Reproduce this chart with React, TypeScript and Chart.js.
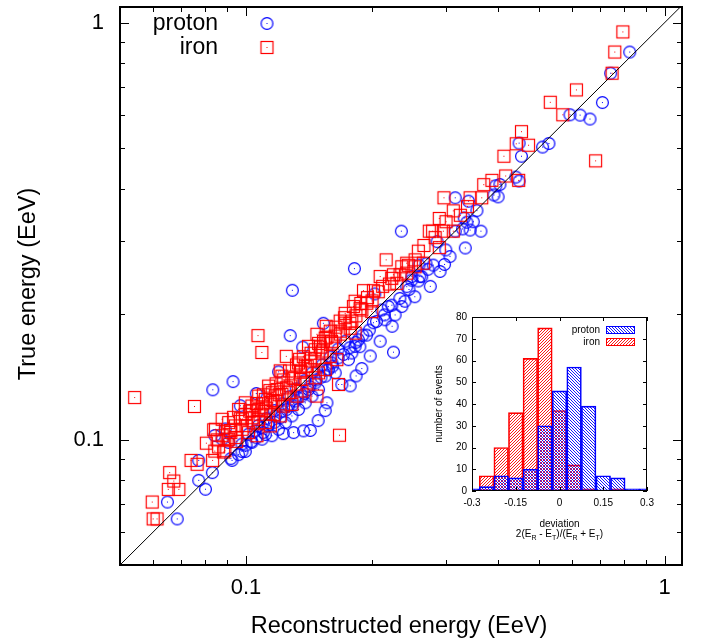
import React, { useEffect, useRef } from 'react';
import { Chart, registerables } from 'chart.js';
Chart.register(...registerables);

// ---------- data ----------
const protonX = [0.825,0.743,0.710,0.594,0.628,0.663,0.529,0.511,0.449,0.455,0.441,0.449,0.404,0.395,0.235,0.1815,0.334,0.364,0.298,0.316,0.340,0.356,0.332,0.349,0.337,0.316,0.329,0.343,0.391,0.400,0.269,0.259,0.272,0.249,0.260,0.129,0.153,0.1275,0.1366,0.203,0.2015,0.194,0.187,0.225,0.189,0.0931,0.0833,0.1196,0.0969,0.1372,0.1299,0.0892,0.156,0.0842,0.0926,0.0996,0.0978,0.0831,0.0771,0.0771,0.080,0.0649,0.0685,0.1058,0.253,0.2355,0.227,0.2149,0.1757,0.1694,0.1633,0.1546,0.149,0.1437,0.1385,0.1335,0.1287,0.1241,0.1196,0.1153,0.1092,0.1033,0.0978,0.0909,0.0877,0.2628,0.2488,0.242,0.211,0.2187,0.1856,0.1822,0.1789,0.1604,0.1574,0.1463,0.141,0.136,0.1311,0.1264,0.1218,0.1175,0.1132,0.1092,0.1052,0.1014,0.1725,0.166,0.1589,0.152,0.1439,0.1377,0.1318,0.1268,0.122,0.1168,0.1118,0.107,0.1424,0.1227,0.1112,0.1487,0.1546,0.1773,0.1832,0.198,0.2091,0.2233,0.2397,0.2755,0.2907,0.307,0.286,
  0.092,0.096,0.100,0.103,0.106,0.110,0.113,0.117,0.121,0.125,0.129,0.133,0.138,0.142,0.147,0.151,0.156,0.161,0.166,0.171,0.177,0.183,0.190,0.197,0.205,0.214,0.223,0.233,0.245,0.258,0.280,0.300];
const protonY = [0.850,0.756,0.643,0.601,0.600,0.587,0.513,0.503,0.514,0.478,0.426,0.417,0.409,0.406,0.316,0.257,0.288,0.316,0.263,0.380,0.373,0.354,0.340,0.333,0.332,0.316,0.320,0.318,0.386,0.382,0.264,0.262,0.256,0.246,0.246,0.228,0.190,0.1775,0.1666,0.2235,0.1906,0.178,0.167,0.162,0.148,0.1377,0.1316,0.1453,0.1205,0.1049,0.1039,0.106,0.1225,0.1022,0.0891,0.0936,0.0936,0.0833,0.0891,0.0798,0.0760,0.0708,0.0645,0.1289,0.220,0.2084,0.199,0.1937,0.1554,0.1355,0.1445,0.1419,0.1318,0.1271,0.1225,0.1181,0.1139,0.1098,0.1058,0.1021,0.1002,0.0984,0.0975,0.0984,0.1002,0.2458,0.2411,0.2326,0.2045,0.2084,0.1734,0.1673,0.1612,0.1526,0.1471,0.1367,0.1318,0.1271,0.1237,0.1203,0.1171,0.1139,0.1098,0.1068,0.1049,0.103,0.1721,0.1648,0.1577,0.151,0.1445,0.1383,0.1323,0.1266,0.1218,0.1173,0.1122,0.108,0.1051,0.1033,0.1028,0.111,0.1173,0.1345,0.1421,0.1586,0.1721,0.1869,0.2146,0.233,0.253,0.2747,0.2982,
  0.090,0.092,0.097,0.099,0.101,0.104,0.108,0.110,0.113,0.118,0.121,0.126,0.129,0.134,0.139,0.141,0.147,0.150,0.157,0.160,0.166,0.171,0.178,0.183,0.192,0.199,0.210,0.218,0.229,0.240,0.262,0.285];
const ironX = [0.7945,0.760,0.749,0.6155,0.533,0.571,0.455,0.442,0.473,0.413,0.684,0.417,0.448,0.3866,0.3696,0.297,0.3126,0.343,0.3656,0.2895,0.3004,0.274,0.279,0.296,0.3126,0.2895,0.2161,0.242,0.2534,0.2652,0.2249,0.2333,0.242,0.1908,0.2015,0.1873,0.1789,0.1678,0.1678,0.1589,0.1477,0.1531,0.207,0.2229,0.2292,0.2355,0.2442,0.2534,0.1805,0.1891,0.1943,0.1997,0.1725,0.1773,0.1822,0.1546,0.1604,0.1068,0.1091,0.1248,0.1342,0.1207,0.141,0.1463,0.1518,0.1589,0.1648,0.1335,0.1385,0.1437,0.149,0.1546,0.1218,0.1287,0.1348,0.1398,0.1463,0.1663,0.1477,0.1132,0.1186,0.1218,0.1264,0.1323,0.136,0.1072,0.1112,0.1143,0.1175,0.1229,0.1287,0.0996,0.1033,0.1072,0.1112,0.1164,0.1207,0.096,0.0996,0.1033,0.1072,0.1112,0.1143,0.0877,0.0909,0.0943,0.0978,0.1014,0.1062,0.0845,0.0877,0.0909,0.0943,0.1672,0.0542,0.0753,0.0837,0.0804,0.0853,0.0901,0.0884,0.0842,0.0739,0.0764,0.0832,0.0657,0.0672,0.0652,0.0691,0.0597,0.0600,0.0613,0.0934,0.1348,0.1424,0.1504,0.1633,0.1725,0.1822,0.2091,0.1275,0.1155,0.1094,0.1035,0.0969,0.0917,0.1554,
  0.086,0.089,0.092,0.095,0.098,0.100,0.102,0.104,0.106,0.108,0.110,0.112,0.114,0.116,0.118,0.120,0.123,0.125,0.127,0.130,0.132,0.135,0.137,0.140,0.143,0.146,0.149,0.152,0.156,0.160,0.164,0.168,0.172,0.177,0.183,0.188,0.195,0.200,0.212,0.220,0.258,0.266,0.283,0.325,0.338];
const ironY = [0.950,0.850,0.756,0.6895,0.644,0.601,0.5475,0.512,0.508,0.478,0.466,0.4286,0.4185,0.4185,0.4086,0.380,0.3536,0.380,0.380,0.339,0.333,0.316,0.316,0.316,0.316,0.2886,0.2697,0.2648,0.2697,0.2648,0.2484,0.2484,0.2506,0.2275,0.2275,0.2061,0.1923,0.1923,0.1819,0.1819,0.1788,0.1721,0.2262,0.2435,0.237,0.2596,0.2618,0.2596,0.2084,0.2045,0.2123,0.2027,0.1902,0.1849,0.180,0.1751,0.1703,0.1775,0.1617,0.1583,0.1557,0.1461,0.1673,0.1642,0.1612,0.1583,0.1554,0.1526,0.1499,0.1471,0.1445,0.1471,0.1419,0.1406,0.1393,0.1367,0.1406,0.1355,0.1271,0.1343,0.1318,0.1282,0.1295,0.1271,0.1307,0.1271,0.1248,0.1225,0.1237,0.1203,0.1214,0.1225,0.1203,0.1181,0.1171,0.1149,0.1139,0.1181,0.1149,0.1128,0.1118,0.1098,0.1078,0.1118,0.1098,0.1078,0.1058,0.1039,0.1021,0.1058,0.1021,0.1002,0.1011,0.1024,0.1261,0.120,0.1055,0.098,0.0998,0.0998,0.0933,0.0938,0.0891,0.0872,0.0891,0.0833,0.0795,0.0759,0.0759,0.0708,0.0645,0.0645,0.113,0.1461,0.1543,0.1666,0.177,0.2007,0.2146,0.246,0.1345,0.1295,0.1218,0.1173,0.1122,0.1051,0.1869,
  0.096,0.094,0.104,0.099,0.112,0.108,0.117,0.110,0.122,0.115,0.128,0.119,0.131,0.124,0.136,0.128,0.139,0.133,0.146,0.140,0.151,0.145,0.158,0.150,0.161,0.156,0.170,0.163,0.176,0.172,0.186,0.179,0.196,0.190,0.198,0.212,0.219,0.215,0.233,0.236,0.283,0.292,0.305,0.345,0.362];

const xRange = [0.05, 1.1];
const yRange = [0.05, 1.09];
const diagonal = [0.05, 1.1];
const majorTicks = [0.1, 1];
const minorTicks = [0.06, 0.07, 0.08, 0.09, 0.2, 0.3, 0.4, 0.5, 0.6, 0.7, 0.8, 0.9];

const histBins = [-0.3, -0.25, -0.2, -0.15, -0.1, -0.05, 0, 0.05, 0.1, 0.15, 0.2, 0.25, 0.3];
const histProton = [1, 2, 7, 6, 10, 30, 46, 57, 39, 7, 6, 1, 1];
const histIron = [0, 7, 20, 36, 61, 75, 37, 12, 1, 0, 1, 0, 0];
const insetXTicks = [-0.3, -0.15, 0, 0.15, 0.3];
const insetYRange = [0, 80];

const FONT = "'Liberation Sans', Arial, Helvetica, sans-serif";
const BLUE = 'rgb(0,0,255)';
const RED = 'rgb(255,0,0)';

// ---------- marker images ----------
function circleMarker() {
  const c = document.createElement('canvas');
  c.width = 15; c.height = 15;
  const g = c.getContext('2d')!;
  g.strokeStyle = BLUE; g.lineWidth = 1.2;
  g.beginPath(); g.arc(7.5, 7.5, 5.9, 0, Math.PI * 2); g.stroke();
  g.fillStyle = BLUE; g.fillRect(7, 7, 1, 1);
  return c;
}
function squareMarker() {
  const c = document.createElement('canvas');
  c.width = 17; c.height = 17;
  const g = c.getContext('2d')!;
  g.strokeStyle = RED; g.lineWidth = 1.2;
  g.strokeRect(2.5, 2.5, 12, 12);
  g.fillStyle = RED; g.fillRect(8, 8, 1, 1);
  return c;
}
function hatch(ctx: CanvasRenderingContext2D, color: string, dir: string) {
  const s = 3;
  const c = document.createElement('canvas');
  c.width = s; c.height = s;
  const g = c.getContext('2d')!;
  g.strokeStyle = color; g.lineWidth = 0.9;
  g.beginPath();
  if (dir === '/') {
    g.moveTo(0, s); g.lineTo(s, 0);
    g.moveTo(-1, 1); g.lineTo(1, -1);
    g.moveTo(s - 1, s + 1); g.lineTo(s + 1, s - 1);
  } else {
    g.moveTo(0, 0); g.lineTo(s, s);
    g.moveTo(-1, s - 1); g.lineTo(1, s + 1);
    g.moveTo(s - 1, -1); g.lineTo(s + 1, 1);
  }
  g.stroke();
  return ctx.createPattern(c, 'repeat')!;
}

function line(ctx: CanvasRenderingContext2D, x1: number, y1: number, x2: number, y2: number) {
  ctx.beginPath(); ctx.moveTo(x1, y1); ctx.lineTo(x2, y2); ctx.stroke();
}

const fitX = (h: number) => (s: any) => { s.height = h; s.paddingLeft = 0; s.paddingRight = 0; };
const fitY = (w: number) => (s: any) => { s.width = w; s.paddingTop = 0; s.paddingBottom = 0; };

export default function App() {
  const mainRef = useRef<HTMLCanvasElement>(null);
  const insetRef = useRef<HTMLCanvasElement>(null);

  useEffect(() => {
    const circ = circleMarker();
    const sq = squareMarker();

    const mainPlugin = {
      id: 'mainDecor',
      afterDraw(chart: any) {
        const { ctx, chartArea: { left, right, top, bottom }, scales: { x, y } } = chart;
        ctx.save();
        ctx.strokeStyle = '#000';
        ctx.lineWidth = 1;
        const tx = (v: number, len: number) => {
          const p = Math.round(x.getPixelForValue(v)) + 0.5;
          line(ctx, p, bottom, p, bottom - len);
          line(ctx, p, top, p, top + len);
        };
        const ty = (v: number, len: number) => {
          const p = Math.round(y.getPixelForValue(v)) + 0.5;
          line(ctx, left, p, left + len, p);
          line(ctx, right, p, right - len, p);
        };
        majorTicks.forEach(v => { tx(v, 9); ty(v, 9); });
        minorTicks.forEach(v => { tx(v, 5); ty(v, 5); });
        ctx.lineWidth = 2;
        ctx.strokeRect(left, top, right - left, bottom - top);

        // legend
        ctx.fillStyle = '#000';
        ctx.font = `23px ${FONT}`;
        ctx.textAlign = 'right';
        ctx.textBaseline = 'middle';
        ctx.fillText('proton', 218, 23.5);
        ctx.fillText('iron', 218, 47.5);
        ctx.drawImage(circ, 267 - 7.5, 23.5 - 7.5);
        ctx.drawImage(sq, 267 - 8.5, 47.5 - 8.5);

        // axis titles
        ctx.font = `23.5px ${FONT}`;
        ctx.textAlign = 'center';
        ctx.textBaseline = 'alphabetic';
        ctx.fillText('Reconstructed energy (EeV)', 399, 633);
        ctx.save();
        ctx.translate(35, 284);
        ctx.rotate(-Math.PI / 2);
        ctx.fillText('True energy (EeV)', 0, 0);
        ctx.restore();
        ctx.restore();
      },
    };

    const main = new Chart(mainRef.current!, {
      type: 'scatter',
      data: {
        datasets: [
          {
            type: 'line',
            data: [{ x: diagonal[0], y: diagonal[0] }, { x: diagonal[1], y: diagonal[1] }],
            borderColor: '#000', borderWidth: 1, pointRadius: 0, fill: false,
          } as any,
          {
            label: 'iron',
            data: ironX.map((v, i) => ({ x: v, y: ironY[i] })),
            pointStyle: sq as any, pointRadius: 6,
          },
          {
            label: 'proton',
            data: protonX.map((v, i) => ({ x: v, y: protonY[i] })),
            pointStyle: circ as any, pointRadius: 6,
          },
        ],
      },
      options: {
        animation: false,
        responsive: false,
        devicePixelRatio: 1,
        events: [],
        layout: { padding: { left: 0, right: 25, top: 4, bottom: 0 } },
        plugins: { legend: { display: false }, tooltip: { enabled: false } },
        scales: {
          x: {
            type: 'logarithmic', min: xRange[0], max: xRange[1],
            grid: { display: false, drawTicks: false }, border: { display: false },
            afterBuildTicks: (s: any) => { s.ticks = majorTicks.map(v => ({ value: v })); },
            afterFit: fitX(79),
            ticks: { color: '#000', font: { family: FONT, size: 22 }, padding: 10, maxRotation: 0, autoSkip: false, callback: (v: any) => String(v) },
          },
          y: {
            type: 'logarithmic', min: yRange[0], max: yRange[1],
            grid: { display: false, drawTicks: false }, border: { display: false },
            afterBuildTicks: (s: any) => { s.ticks = majorTicks.map(v => ({ value: v })); },
            afterFit: fitY(120),
            ticks: { color: '#000', font: { family: FONT, size: 22 }, padding: 16, autoSkip: false, callback: (v: any) => String(v) },
          },
        },
      } as any,
      plugins: [mainPlugin],
    });

    const ictx = insetRef.current!.getContext('2d')!;
    const bluePat = hatch(ictx, BLUE, '\\');
    const redPat = hatch(ictx, RED, '/');

    const insetPlugin = {
      id: 'insetDecor',
      afterDraw(chart: any) {
        const { ctx, chartArea: { left, right, top, bottom }, scales: { x, y } } = chart;
        ctx.save();
        ctx.strokeStyle = '#000';
        ctx.lineWidth = 1;
        insetXTicks.forEach(v => {
          const p = Math.round(x.getPixelForValue(v)) + 0.5;
          line(ctx, p, bottom, p, bottom - 4);
          line(ctx, p, top, p, top + 4);
        });
        for (let v = insetYRange[0]; v <= insetYRange[1]; v += 10) {
          const p = Math.round(y.getPixelForValue(v)) + 0.5;
          line(ctx, left, p, left + 4, p);
          line(ctx, right, p, right - 4, p);
        }
        ctx.strokeRect(left + 0.5, top + 0.5, right - left - 1, bottom - top - 1);

        // legend
        ctx.fillStyle = '#000';
        ctx.font = `10px ${FONT}`;
        ctx.textAlign = 'right';
        ctx.textBaseline = 'middle';
        ctx.fillText('proton', 200, 35);
        ctx.fillText('iron', 200, 47);
        ctx.lineWidth = 1;
        ctx.fillStyle = bluePat;
        ctx.fillRect(206, 31, 28, 7);
        ctx.strokeStyle = BLUE;
        ctx.strokeRect(206.5, 31.5, 28, 7);
        ctx.fillStyle = redPat;
        ctx.fillRect(206, 43, 28, 7);
        ctx.strokeStyle = RED;
        ctx.strokeRect(206.5, 43.5, 28, 7);

        // titles
        ctx.fillStyle = '#000';
        ctx.textAlign = 'center';
        ctx.textBaseline = 'alphabetic';
        ctx.font = `10px ${FONT}`;
        const cx = (left + right) / 2;
        ctx.fillText('deviation', cx, 231.5);
        const parts: [string, number][] = [['2(E', 0], ['R', 1], [' - E', 0], ['T', 1], [')/(E', 0], ['R', 1], [' + E', 0], ['T', 1], [')', 0]];
        let total = 0;
        parts.forEach(([t, s]) => { ctx.font = `${s ? 7 : 10}px ${FONT}`; total += ctx.measureText(t).width; });
        let px = cx - total / 2;
        ctx.textAlign = 'left';
        parts.forEach(([t, s]) => {
          ctx.font = `${s ? 7 : 10}px ${FONT}`;
          ctx.fillText(t, px, 241.5 + (s ? 3 : 0));
          px += ctx.measureText(t).width;
        });
        ctx.font = `10px ${FONT}`;
        ctx.textAlign = 'center';
        ctx.save();
        ctx.translate(42, (top + bottom) / 2);
        ctx.rotate(-Math.PI / 2);
        ctx.fillText('number of events', 0, 0);
        ctx.restore();
        ctx.restore();
      },
    };

    const inset = new Chart(insetRef.current!, {
      type: 'bar',
      data: {
        datasets: [
          {
            label: 'proton',
            data: histBins.map((b, i) => ({ x: b, y: histProton[i] })).filter(p => p.y > 0),
            backgroundColor: bluePat, borderColor: BLUE, borderWidth: 1, borderSkipped: false,
            grouped: false, barPercentage: 1, categoryPercentage: 1, clip: 0,
          } as any,
          {
            label: 'iron',
            data: histBins.map((b, i) => ({ x: b, y: histIron[i] })).filter(p => p.y > 0),
            backgroundColor: redPat, borderColor: RED, borderWidth: 1, borderSkipped: false,
            grouped: false, barPercentage: 1, categoryPercentage: 1, clip: 0,
          } as any,
        ],
      },
      options: {
        animation: false,
        responsive: false,
        devicePixelRatio: 1,
        events: [],
        layout: { padding: { left: 0, right: 43, top: 22, bottom: 0 } },
        plugins: { legend: { display: false }, tooltip: { enabled: false } },
        scales: {
          x: {
            type: 'linear', min: insetXTicks[0], max: insetXTicks[insetXTicks.length - 1], offset: false,
            grid: { display: false, drawTicks: false }, border: { display: false },
            afterBuildTicks: (s: any) => { s.ticks = insetXTicks.map(v => ({ value: v })); },
            afterFit: fitX(69),
            ticks: { color: '#000', font: { family: FONT, size: 10 }, padding: 6, maxRotation: 0, autoSkip: false, callback: (v: any) => String(v) },
          },
          y: {
            type: 'linear', min: insetYRange[0], max: insetYRange[1],
            grid: { display: false, drawTicks: false }, border: { display: false },
            afterFit: fitY(72),
            ticks: { color: '#000', font: { family: FONT, size: 10 }, padding: 5, stepSize: 10 },
          },
        },
      } as any,
      plugins: [insetPlugin],
    });

    return () => { main.destroy(); inset.destroy(); };
  }, []);

  return (
    <div style={{ position: 'absolute', left: 0, top: 0, width: 707, height: 644, background: '#fff' }}>
      <canvas ref={mainRef} width={707} height={644} style={{ position: 'absolute', left: 0, top: 0 }} />
      <canvas ref={insetRef} width={290} height={265} style={{ position: 'absolute', left: 400, top: 295 }} />
    </div>
  );
}
